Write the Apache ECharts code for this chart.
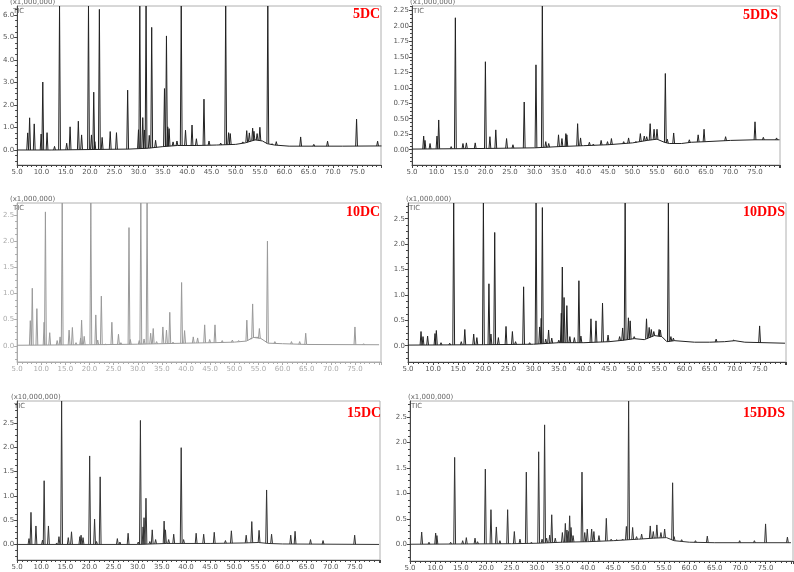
<!DOCTYPE html>
<html>
<head>
<meta charset="utf-8">
<script src="https://cdn.jsdelivr.net/npm/echarts@6/dist/echarts.min.js"></script>
<style>
html, body { margin: 0; padding: 0; background: #fff; }
#main { width: 794px; height: 572px; }
</style>
</head>
<body>
<div id="main"></div>
<script>
// sample names and the intensity multiplier printed over each trace
var sampleNames = ['5DC', '5DDS', '10DC', '10DDS', '15DC', '15DDS'];
var scaleNotes = ['(x1,000,000)', '(x1,000,000)', '(x1,000,000)', '(x1,000,000)', '(x10,000,000)', '(x1,000,000)'];

// y tick labels for each trace
var yTicks5DC = [0.0, 1.0, 2.0, 3.0, 4.0, 5.0, 6.0];
var yTicks5DDS = [0.00, 0.25, 0.50, 0.75, 1.00, 1.25, 1.50, 1.75, 2.00, 2.25];
var yTicks10DC = [0.0, 0.5, 1.0, 1.5, 2.0, 2.5];
var yTicks10DDS = [0.0, 0.5, 1.0, 1.5, 2.0, 2.5];
var yTicks15DC = [0.0, 0.5, 1.0, 1.5, 2.0, 2.5];
var yTicks15DDS = [0.0, 0.5, 1.0, 1.5, 2.0, 2.5];

// peaks: [retention time (min), intensity]
var peaks5DC = [[7.17,0.76],[7.57,1.43],[8.52,1.16],[9.94,0.71],[10.28,3.02],[11.16,0.77],[12.7,0.16],[13.73,6.6],
  [15.2,0.3],[15.9,1.03],[17.6,1.28],[18.27,0.67],[19.69,6.6],[20.3,0.67],[20.77,2.57],[21.0,0.37],[21.93,6.25],
  [22.5,0.56],[24.16,0.82],[25.45,0.77],[27.75,2.66],[29.98,0.9],[30.25,6.6],[30.86,1.44],[31.2,0.89],[31.54,6.6],
  [32.2,0.65],[32.7,5.45],[33.5,0.43],[35.33,2.73],[35.74,5.07],[36.0,1.03],[36.28,0.95],[37.1,0.36],[37.9,0.4],
  [38.78,6.6],[39.66,0.88],[41.0,1.11],[41.9,0.5],[43.46,2.26],[44.5,0.4],[46.9,0.31],[47.93,6.6],[48.53,0.77],
  [48.87,0.73],[51.45,0.36],[52.26,0.86],[52.8,0.76],[53.48,0.97],[53.75,0.83],[54.4,0.73],[54.97,1.01],[56.6,6.6],
  [57.47,0.28],[58.35,0.37],[63.36,0.58],[66.07,0.25],[68.9,0.39],[74.87,1.37],[79.2,0.39]];
var peaks5DDS = [[7.38,0.22],[7.65,0.15],[8.68,0.1],[10.1,0.22],[10.45,0.48],[13.0,0.05],[13.85,2.13],[15.4,0.1],
  [16.1,0.11],[17.9,0.11],[19.98,1.42],[20.9,0.21],[22.1,0.32],[24.3,0.18],[25.6,0.08],[27.9,0.77],[30.3,1.37],
  [31.6,2.4],[32.3,0.13],[32.9,0.1],[34.9,0.24],[35.6,0.18],[36.4,0.26],[36.6,0.24],[38.8,0.42],[39.4,0.19],
  [41.2,0.12],[42.0,0.09],[43.6,0.15],[44.9,0.13],[45.7,0.18],[48.2,0.13],[49.2,0.19],[50.7,0.13],[51.6,0.26],
  [52.4,0.22],[52.9,0.21],[53.6,0.42],[54.4,0.33],[55.0,0.33],[56.7,1.23],[57.1,0.17],[58.4,0.27],[61.6,0.16],
  [63.4,0.24],[64.6,0.33],[69.0,0.21],[75.0,0.45],[76.7,0.2],[79.4,0.19]];
var peaks10DC = [[7.73,0.48],[8.14,1.1],[9.09,0.71],[10.59,0.45],[10.86,2.56],[11.75,0.25],[13.3,0.1],[13.9,0.17],
  [14.34,2.9],[15.77,0.3],[16.45,0.35],[17.2,0.06],[18.16,0.15],[18.36,0.49],[18.9,0.18],[20.27,2.9],[21.3,0.59],
  [21.7,0.11],[22.45,0.95],[23.3,0.03],[24.63,0.45],[26.0,0.22],[26.5,0.06],[28.18,2.26],[28.45,0.12],[30.3,0.1],
  [30.63,2.9],[31.3,0.13],[31.93,2.9],[32.67,0.24],[33.2,0.33],[33.9,0.08],[35.2,0.36],[35.95,0.3],[36.63,0.64],
  [37.3,0.07],[39.08,1.21],[39.7,0.29],[41.5,0.17],[42.4,0.15],[43.86,0.4],[44.9,0.12],[46.0,0.4],[47.5,0.1],
  [49.6,0.11],[50.9,0.1],[52.6,0.49],[53.4,0.14],[53.8,0.8],[54.5,0.17],[54.9,0.17],[55.2,0.33],[56.87,2.0],
  [58.4,0.08],[61.85,0.08],[63.55,0.08],[64.8,0.24],[75.0,0.36],[76.8,0.04]];
var peaks10DDS = [[7.59,0.28],[7.99,0.18],[8.9,0.19],[10.37,0.24],[10.64,0.3],[11.57,0.06],[13.3,0.05],[14.09,3.0],
  [15.6,0.08],[16.3,0.32],[18.07,0.23],[18.7,0.16],[20.0,3.0],[21.1,1.22],[21.5,0.23],[22.25,2.23],[22.98,0.16],
  [24.5,0.38],[25.77,0.28],[26.4,0.08],[28.0,1.16],[29.2,0.06],[30.48,3.0],[31.2,0.37],[31.5,0.54],[31.73,2.72],
  [32.4,0.13],[32.97,0.31],[33.6,0.15],[35.0,0.11],[35.5,0.64],[35.7,1.55],[36.05,0.95],[36.6,0.79],[37.2,0.18],
  [38.1,0.16],[39.0,1.28],[39.4,0.19],[41.4,0.53],[42.4,0.49],[43.7,0.84],[44.8,0.21],[47.1,0.18],[47.7,0.35],
  [48.2,3.0],[48.85,0.55],[49.2,0.49],[50.0,0.18],[52.45,0.53],[52.98,0.36],[53.4,0.32],[53.9,0.28],[54.96,0.32],
  [55.2,0.31],[56.8,3.0],[57.3,0.18],[57.8,0.15],[66.3,0.13],[69.8,0.11],[74.95,0.39]];
var peaks15DC = [[7.46,0.12],[7.87,0.66],[8.9,0.38],[10.26,0.09],[10.6,1.31],[11.49,0.38],[13.2,0.03],[13.67,0.16],
  [14.22,3.1],[15.6,0.14],[16.27,0.26],[18.0,0.16],[18.25,0.19],[18.66,0.14],[20.03,1.82],[21.05,0.52],[21.46,0.06],
  [22.21,1.39],[25.77,0.12],[26.3,0.05],[28.0,0.23],[30.1,0.05],[30.55,2.55],[31.1,0.36],[31.3,0.55],[31.7,0.95],
  [32.5,0.06],[33.0,0.3],[33.7,0.1],[35.46,0.48],[35.74,0.3],[36.4,0.1],[37.45,0.21],[39.0,1.99],[39.5,0.1],
  [42.1,0.23],[43.66,0.21],[45.85,0.25],[48.17,0.08],[49.4,0.28],[52.47,0.19],[53.63,0.47],[55.14,0.29],[56.7,1.12],
  [57.73,0.21],[61.7,0.19],[62.6,0.27],[65.8,0.1],[68.4,0.08],[74.95,0.19]];
var peaks15DDS = [[7.3,0.24],[8.74,0.04],[10.05,0.22],[10.3,0.17],[13.0,0.04],[13.79,1.71],[15.37,0.07],[16.09,0.13],
  [17.8,0.12],[18.3,0.05],[19.83,1.48],[20.94,0.68],[22.0,0.34],[22.7,0.07],[24.22,0.68],[25.54,0.25],[26.65,0.1],
  [27.9,1.42],[28.9,0.04],[30.33,1.82],[31.0,0.1],[31.5,2.35],[31.9,0.12],[32.5,0.18],[32.9,0.58],[33.6,0.12],
  [35.0,0.23],[35.58,0.41],[35.9,0.28],[36.2,0.25],[36.43,0.56],[36.7,0.33],[37.1,0.17],[38.86,1.42],[39.4,0.23],
  [39.9,0.3],[40.76,0.3],[41.2,0.25],[42.2,0.17],[43.65,0.51],[44.6,0.1],[45.7,0.09],[46.86,0.1],[47.6,0.35],
  [48.04,3.0],[48.83,0.33],[49.6,0.15],[50.6,0.2],[52.3,0.36],[52.9,0.25],[53.6,0.38],[54.4,0.23],[55.13,0.3],
  [56.7,1.21],[57.0,0.15],[58.48,0.09],[61.2,0.07],[63.53,0.16],[69.9,0.07],[72.8,0.07],[75.0,0.4],[79.3,0.14]];

// baseline drift: [retention time (min), intensity]
var base5DC = [[5,0.0],[12,0.0],[20,0.02],[28,0.04],[32,0.08],[35,0.15],[38,0.2],[42,0.2],[46,0.22],[50,0.25],
  [52,0.32],[54,0.45],[55.5,0.4],[56.5,0.28],[58,0.22],[61,0.17],[66,0.17],[72,0.17],[80,0.18]];
var base5DDS = [[5,0.01],[20,0.02],[30,0.03],[35,0.05],[40,0.065],[45,0.08],[50,0.11],[53,0.15],[55,0.17],
  [56.5,0.12],[57.5,0.1],[60,0.1],[62,0.12],[65,0.13],[70,0.15],[75,0.16],[80,0.16]];
var base10DC = [[5,0.01],[20,0.02],[30,0.03],[35,0.04],[40,0.05],[46,0.06],[50,0.07],[52.5,0.09],[54,0.16],
  [55.5,0.14],[57,0.05],[60,0.04],[65,0.025],[80,0.02]];
var base10DDS = [[5,0.013],[20,0.02],[30,0.03],[35,0.06],[40,0.06],[45,0.08],[48,0.11],[50,0.14],[52,0.12],
  [54,0.2],[55.5,0.18],[56.5,0.08],[58,0.1],[62,0.07],[65,0.07],[68,0.08],[70,0.1],[72,0.07],[80,0.05]];
var base15DC = [[5,0.0],[30,0.0],[36,0.02],[45,0.02],[52,0.03],[55,0.04],[57,0.02],[60,0.01],[80,0.0]];
var base15DDS = [[5,0.0],[25,0.01],[30,0.02],[35,0.04],[40,0.05],[45,0.07],[50,0.1],[53,0.12],[55.5,0.13],
  [57,0.07],[60,0.04],[65,0.03],[80,0.03]];

var peakSets = [peaks5DC, peaks5DDS, peaks10DC, peaks10DDS, peaks15DC, peaks15DDS];
var baseSets = [base5DC, base5DDS, base10DC, base10DDS, base15DC, base15DDS];
var tickSets = [yTicks5DC, yTicks5DDS, yTicks10DC, yTicks10DDS, yTicks15DC, yTicks15DDS];

// layout of the six panels
var panels = [
  {left: 12, top: 6, width: 369, height: 159, xMax: 79.9, yMin: -0.667, yMax: 6.4, dec: 1, line: '#222', axis: '#444', tx: 353, ty: 7},
  {left: 412, top: 6, width: 368, height: 159, xMax: 80.1, yMin: -0.247, yMax: 2.32, dec: 2, line: '#222', axis: '#444', tx: 743, ty: 8},
  {left: 12, top: 203, width: 369, height: 159, xMax: 80.4, yMin: -0.31, yMax: 2.73, dec: 1, line: '#9a9a9a', axis: '#aaa', tx: 346, ty: 205},
  {left: 408, top: 203, width: 378, height: 159, xMax: 80.2, yMin: -0.32, yMax: 2.81, dec: 1, line: '#222', axis: '#444', tx: 743, ty: 205},
  {left: 13, top: 401, width: 367, height: 159, xMax: 80.2, yMin: -0.32, yMax: 2.95, dec: 1, line: '#333', axis: '#444', tx: 347, ty: 406},
  {left: 410, top: 401, width: 383, height: 160, xMax: 80.4, yMin: -0.33, yMax: 2.82, dec: 1, line: '#333', axis: '#444', tx: 743, ty: 406}
];

function baseAt(base, t) {
  for (var k = 1; k < base.length; k++) {
    if (t <= base[k][0]) {
      var a = base[k - 1], b = base[k];
      return a[1] + (b[1] - a[1]) * (t - a[0]) / (b[0] - a[0]);
    }
  }
  return base[base.length - 1][1];
}

var option = {
  animation: false,
  backgroundColor: '#fff',
  title: [], grid: [], xAxis: [], yAxis: [], series: [], graphic: []
};

panels.forEach(function (p, i) {
  var ticks = tickSets[i];
  var step = ticks[1] - ticks[0];
  var minors = [];
  for (var v = Math.ceil(p.yMin / (step / 4)) * (step / 4); v <= p.yMax; v += step / 4) minors.push(+v.toFixed(4));
  var labelColor = i === 2 ? '#aaa' : '#555';

  option.grid.push({left: p.left, top: p.top, width: p.width, height: p.height,
    show: true, borderColor: '#b0b0b0', borderWidth: 1, backgroundColor: 'transparent'});

  option.xAxis.push({
    type: 'value', gridIndex: i, min: 5, max: p.xMax, interval: 5,
    axisLine: {onZero: false, lineStyle: {color: p.axis, width: 1}},
    axisTick: {length: 3, lineStyle: {color: p.axis}},
    minorTick: {show: true, splitNumber: 5, length: 2, lineStyle: {color: p.axis}},
    splitLine: {show: false},
    axisLabel: {fontSize: 7, color: labelColor, margin: 4, fontFamily: 'DejaVu Sans',
      showMaxLabel: false, formatter: function (val) { return val > 77 ? '' : val.toFixed(1); }}
  });

  option.yAxis.push({
    type: 'value', gridIndex: i, min: p.yMin, max: p.yMax, position: 'left',
    axisLine: {show: true, onZero: false, lineStyle: {color: p.axis, width: 1}},
    axisTick: {show: true, length: 3, customValues: ticks, lineStyle: {color: p.axis}},
    splitLine: {show: false},
    axisLabel: {fontSize: 7, color: labelColor, margin: 3, fontFamily: 'DejaVu Sans', customValues: ticks,
      formatter: function (val) { return val.toFixed(p.dec); }}
  });
  option.yAxis.push({
    type: 'value', gridIndex: i, min: p.yMin, max: p.yMax, position: 'left', offset: 0,
    axisLine: {show: false},
    axisTick: {show: true, length: 2, customValues: minors, lineStyle: {color: p.axis}},
    splitLine: {show: false},
    axisLabel: {show: false}
  });

  option.title.push({text: sampleNames[i], left: p.tx, top: p.ty, padding: 0,
    textStyle: {color: '#ff0000', fontFamily: 'Liberation Serif', fontWeight: 'bold', fontSize: 14}});

  option.graphic.push({type: 'text', left: p.left - 2, top: p.top - 7,
    style: {text: scaleNotes[i], fontSize: 7, fill: '#666', fontFamily: 'DejaVu Sans'}});
  option.graphic.push({type: 'text', left: p.left + 1, top: p.top + 2,
    style: {text: 'TIC', fontSize: 7, fill: '#666', fontFamily: 'DejaVu Sans'}});

  var base = baseSets[i];
  option.series.push({
    type: 'line', xAxisIndex: i, yAxisIndex: 2 * i, data: base,
    showSymbol: false, silent: true, clip: true,
    lineStyle: {color: p.line, width: 1}
  });
  option.series.push({
    type: 'custom', xAxisIndex: i, yAxisIndex: 2 * i, data: peakSets[i], clip: true, silent: true,
    encode: {x: 0, y: 1},
    renderItem: function (params, api) {
      var t = api.value(0), h = Math.min(api.value(1), p.yMax);
      var top = api.coord([t, h]);
      var foot = api.coord([t, baseAt(base, t)]);
      return {
        type: 'polyline',
        shape: {points: [[foot[0] - 0.9, foot[1]], [top[0], top[1]], [foot[0] + 0.9, foot[1]]]},
        style: {stroke: p.line, lineWidth: 1, fill: null}
      };
    }
  });
});

var chart = echarts.init(document.getElementById('main'));
chart.setOption(option);
</script>
</body>
</html>
